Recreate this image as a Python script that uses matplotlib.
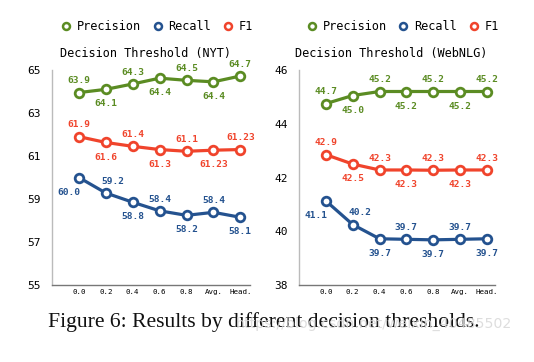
import matplotlib
matplotlib.use("Agg")
import matplotlib.pyplot as plt
from matplotlib.lines import Line2D

# ---- data ----
categories = ["0.0", "0.2", "0.4", "0.6", "0.8", "Avg.", "Head."]

nyt_precision = [63.95, 64.1, 64.35, 64.62, 64.52, 64.45, 64.72]
nyt_recall = [60.0, 59.28, 58.85, 58.45, 58.24, 58.38, 58.15]
nyt_f1 = [61.9, 61.63, 61.45, 61.3, 61.22, 61.27, 61.3]
nyt_precision_labels = ["63.9", "64.1", "64.3", "64.4", "64.5", "64.4", "64.7"]
nyt_recall_labels = ["60.0", "59.2", "58.8", "58.4", "58.2", "58.4", "58.1"]
nyt_f1_labels = ["61.9", "61.6", "61.4", "61.3", "61.1", "61.23", "61.23"]

web_precision = [44.75, 45.05, 45.2, 45.2, 45.2, 45.2, 45.2]
web_recall = [41.13, 40.25, 39.72, 39.7, 39.68, 39.7, 39.72]
web_f1 = [42.85, 42.5, 42.28, 42.28, 42.27, 42.28, 42.28]
web_precision_labels = ["44.7", "45.0", "45.2", "45.2", "45.2", "45.2", "45.2"]
web_recall_labels = ["41.1", "40.2", "39.7", "39.7", "39.7", "39.7", "39.7"]
web_f1_labels = ["42.9", "42.5", "42.3", "42.3", "42.3", "42.3", "42.3"]

series_names = ["Precision", "Recall", "F1"]
colors = ["#5b8c23", "#24528f", "#f0442c"]

nyt_yticks = [55, 57, 59, 61, 63, 65]
web_yticks = [38, 40, 42, 44, 46]

MONO = "DejaVu Sans Mono"

fig = plt.figure(figsize=(5.34, 3.62), dpi=100)
W, H = 534, 362


def add_axes(x0, x1, y_top, y_bot):
    return fig.add_axes([x0 / W, 1 - y_bot / H, (x1 - x0) / W, (y_bot - y_top) / H])


def draw_panel(ax, title, series, labels, yticks, xmax, title_x):
    x = list(range(len(categories)))
    for si, (vals, labs, col) in enumerate(zip(series, labels, colors)):
        ax.plot(x, vals, color=col, lw=2.3, marker="o", ms=6.2,
                mfc="white", mec=col, mew=2.0, zorder=3, clip_on=False)
        for i, (v, lab) in enumerate(zip(vals, labs)):
            above = (i % 2 == 0)
            if si == 1:
                above = (i % 2 == 1)
            dy = 8.5 if above else -10.5
            dx = 0
            if si == 1 and i == 0:
                dx = -7
            if si == 1 and i == 1:
                dx = 5
            ax.annotate(lab, (i, v), xytext=(dx, dy), textcoords="offset points",
                        ha="center", va="center", fontsize=6.8,
                        fontfamily=MONO, fontweight="bold", color=col)
    ax.set_xlim(-1, xmax)
    ax.set_ylim(yticks[0], yticks[-1])
    ax.set_yticks(yticks)
    ax.set_yticklabels([str(t) for t in yticks], fontfamily=MONO, fontsize=8)
    ax.set_xticks(x)
    ax.set_xticklabels(categories, fontfamily=MONO, fontsize=5.4)
    ax.tick_params(axis="both", length=0)
    ax.tick_params(axis="y", pad=8)
    ax.tick_params(axis="x", pad=3)
    for s in ["top", "right"]:
        ax.spines[s].set_visible(False)
    ax.spines["left"].set_color("#bbbbbb")
    ax.spines["bottom"].set_color("#777777")
    ax.spines["left"].set_linewidth(1.0)
    ax.spines["bottom"].set_linewidth(1.0)
    ax.set_title(title, fontfamily=MONO, fontsize=8.6, x=title_x, pad=9)
    handles = [Line2D([], [], ls="none", marker="o", ms=5, mfc="white",
                      mec=c, mew=1.8) for c in colors]
    ax.legend(handles, series_names, loc="center", ncol=3,
              bbox_to_anchor=(0.53, 1.2), frameon=False,
              prop={"family": MONO, "size": 8.6}, handlelength=0.8,
              handletextpad=0.5, columnspacing=1.0, borderaxespad=0)


ax1 = add_axes(52, 250, 70, 285)
ax2 = add_axes(299, 495, 70, 285)

draw_panel(ax1, "Decision Threshold (NYT)",
           [nyt_precision, nyt_recall, nyt_f1],
           [nyt_precision_labels, nyt_recall_labels, nyt_f1_labels],
           nyt_yticks, 6.36, 0.47)
draw_panel(ax2, "Decision Threshold (WebNLG)",
           [web_precision, web_recall, web_f1],
           [web_precision_labels, web_recall_labels, web_f1_labels],
           web_yticks, 6.3, 0.47)

fig.text(263.5 / W, 1 - 322 / H, "Figure 6: Results by different decision thresholds.",
         ha="center", va="center", fontfamily="Liberation Serif", fontsize=15.6,
         color="#111111", zorder=4)
fig.text(512 / W, 1 - 324 / H, "https://blog.csdn.net/weixin_40485502",
         ha="right", va="center", fontfamily="DejaVu Sans", fontsize=10.2,
         color="#d8d8d8", alpha=0.85, zorder=5)

fig.savefig("out.png", dpi=100)
